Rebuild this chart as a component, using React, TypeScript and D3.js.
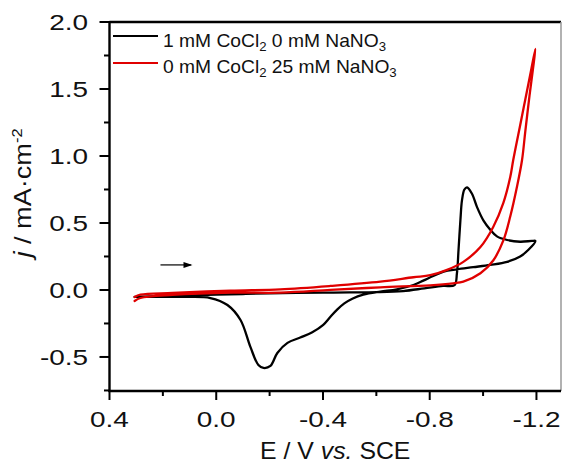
import React from 'react'
import * as d3 from 'd3'

const W = 563
const H = 464
const margin = { left: 109.5, top: 22, right: 2, bottom: 73 }

// 1 mM CoCl2, 0 mM NaNO3 : scan toward negative potentials, then back
const coForwardE = [0.306, 0.2, 0.1, 0.0, -0.1, -0.2, -0.3, -0.4, -0.5, -0.6, -0.7, -0.78, -0.85, -0.893, -0.902, -0.908, -0.915, -0.921, -0.930, -0.940, -0.958, -0.977, -1.001, -1.027, -1.052, -1.090, -1.139, -1.183, -1.196]
const coForwardJ = [-0.052, -0.045, -0.04, -0.035, -0.03, -0.025, -0.022, -0.02, -0.018, -0.016, -0.008, 0.012, 0.03, 0.037, 0.125, 0.30, 0.52, 0.67, 0.75, 0.766, 0.72, 0.62, 0.52, 0.45, 0.40, 0.373, 0.36, 0.366, 0.366]
const coReverseE = [-1.196, -1.17, -1.139, -1.09, -1.027, -0.963, -0.902, -0.852, -0.813, -0.776, -0.739, -0.677, -0.615, -0.551, -0.51, -0.48, -0.454, -0.428, -0.401, -0.360, -0.315, -0.267, -0.229, -0.203, -0.177, -0.158, -0.128, -0.091, -0.042, 0.022, 0.123, 0.306]
const coReverseJ = [0.366, 0.30, 0.25, 0.21, 0.187, 0.17, 0.154, 0.137, 0.104, 0.07, 0.037, 0.005, -0.012, -0.035, -0.065, -0.1, -0.145, -0.2, -0.26, -0.315, -0.355, -0.395, -0.47, -0.567, -0.582, -0.56, -0.425, -0.224, -0.112, -0.06, -0.052, -0.052]

// 0 mM CoCl2, 25 mM NaNO3
const noForwardE = [0.306, 0.284, 0.164, -0.053, -0.24, -0.428, -0.615, -0.739, -0.802, -0.865, -0.926, -0.99, -1.038, -1.076, -1.102, -1.113, -1.139, -1.158, -1.177, -1.196]
const noForwardJ = [-0.052, -0.035, -0.022, -0.005, 0.005, 0.03, 0.062, 0.095, 0.11, 0.15, 0.21, 0.32, 0.47, 0.65, 0.845, 0.97, 1.23, 1.42, 1.61, 1.8]
const noReverseE = [-1.196, -1.187, -1.174, -1.158, -1.146, -1.127, -1.102, -1.076, -1.038, -0.99, -0.926, -0.888, -0.802, -0.615, -0.428, -0.24, -0.053, 0.164, 0.284, 0.306]
const noReverseJ = [1.8, 1.65, 1.45, 1.18, 0.97, 0.77, 0.55, 0.37, 0.22, 0.125, 0.062, 0.05, 0.035, 0.02, 0.0, -0.02, -0.02, -0.037, -0.06, -0.082]

const xTicks = [0.4, 0.0, -0.4, -0.8, -1.2]
const xMinor = [0.2, -0.2, -0.6, -1.0]
const yTicks = [-0.5, 0.0, 0.5, 1.0, 1.5, 2.0]
const yMinor = [-0.75, -0.25, 0.25, 0.75, 1.25, 1.75]

const series = [
  { name: 'co', color: '#000000', E: coForwardE.concat(coReverseE.slice(1)), J: coForwardJ.concat(coReverseJ.slice(1)) },
  { name: 'no3', color: '#e00000', E: noForwardE.concat(noReverseE.slice(1)), J: noForwardJ.concat(noReverseJ.slice(1)) },
]

const font = '"Liberation Sans", Arial, sans-serif'
const tickFont = 22
const tickStretch = 1.27

export default function App() {
  const x = d3.scaleLinear().domain([0.4, -1.292]).range([margin.left, W - margin.right])
  const y = d3.scaleLinear().domain([-0.754, 2.0]).range([H - margin.bottom, margin.top])

  const line = d3.line<[number, number]>()
    .x(d => x(d[0]))
    .y(d => y(d[1]))
    .curve(d3.curveCatmullRom.alpha(0.5))

  const x0 = x.range()[0]
  const x1 = x.range()[1]
  const y0 = y.range()[0]
  const y1 = y.range()[1]

  return (
    <svg width={W} height={H} style={{ position: 'absolute', left: 0, top: 0, background: '#fff' }} fontFamily={font}>
      <rect x={0} y={0} width={W} height={H} fill="#fff" />

      {/* curves */}
      <g fill="none" strokeWidth={2.3} strokeLinejoin="round" strokeLinecap="round">
        {series.map(s => (
          <path key={s.name} d={line(s.E.map((e, i) => [e, s.J[i]] as [number, number])) || ''} stroke={s.color} />
        ))}
      </g>

      {/* frame */}
      <line x1={x0} x2={x1} y1={y1} y2={y1} stroke="#000" strokeWidth={2.4} />
      <line x1={x1} x2={x1} y1={y1} y2={y0} stroke="#999" strokeWidth={1.5} />

      {/* y axis */}
      <g>
        <line x1={x0} x2={x0} y1={y1 - 1} y2={y0 + 1} stroke="#000" strokeWidth={2.4} />
        {yTicks.map(t => (
          <g key={t}>
            <line x1={x0 - 10} x2={x0} y1={y(t)} y2={y(t)} stroke="#000" strokeWidth={2} />
            <text transform={`translate(88, ${y(t)}) scale(${tickStretch}, 1)`} dy="0.35em" textAnchor="end" fontSize={tickFont} fill="#111">{t.toFixed(1)}</text>
          </g>
        ))}
        {yMinor.map(t => (
          <line key={t} x1={x0 - 5.5} x2={x0} y1={y(t)} y2={y(t)} stroke="#000" strokeWidth={2} />
        ))}
      </g>

      {/* x axis */}
      <g>
        <line x1={x0 - 1} x2={x1} y1={y0} y2={y0} stroke="#000" strokeWidth={2.4} />
        {xTicks.map(t => (
          <g key={t}>
            <line x1={x(t)} x2={x(t)} y1={y0} y2={y0 + 9} stroke="#000" strokeWidth={2} />
            <text transform={`translate(${x(t)}, ${y0 + 36}) scale(${tickStretch}, 1)`} textAnchor="middle" fontSize={tickFont} fill="#111">{t.toFixed(1)}</text>
          </g>
        ))}
        {xMinor.map(t => (
          <line key={t} x1={x(t)} x2={x(t)} y1={y0} y2={y0 + 5} stroke="#000" strokeWidth={2} />
        ))}
      </g>

      {/* axis titles */}
      <text transform={`translate(${(x0 + x1) / 2}, 459) scale(1.08, 1)`} textAnchor="middle" fontSize={23} fill="#111">
        E / V <tspan fontStyle="italic">vs.</tspan> SCE
      </text>
      <text transform={`translate(31, 193) rotate(-90) scale(1.18, 1)`} textAnchor="middle" fontSize={23} fill="#111">
        <tspan fontStyle="italic">j</tspan> / mA·cm<tspan dy={-9} fontSize={14}>-2</tspan>
      </text>

      {/* scan direction arrow */}
      <g>
        <line x1={x(0.209)} x2={x(0.095)} y1={y(0.187)} y2={y(0.187)} stroke="#000" strokeWidth={1.2} />
        <path d={`M${x(0.089)},${y(0.187)} l-9,-3 l0,6 z`} fill="#000" />
      </g>

      {/* legend */}
      <g fontSize={17.5} fill="#111">
        <line x1={113} x2={158} y1={36} y2={36} stroke="#000" strokeWidth={2.2} />
        <text transform="translate(163, 46.5) scale(1.1, 1)">
          1 mM CoCl<tspan dy={4} fontSize={12}>2</tspan><tspan dy={-4}> 0 mM NaNO</tspan><tspan dy={4} fontSize={12}>3</tspan>
        </text>
        <line x1={113} x2={158} y1={63} y2={63} stroke="#e00000" strokeWidth={2.2} />
        <text transform="translate(163, 73) scale(1.1, 1)">
          0 mM CoCl<tspan dy={4} fontSize={12}>2</tspan><tspan dy={-4}> 25 mM NaNO</tspan><tspan dy={4} fontSize={12}>3</tspan>
        </text>
      </g>
    </svg>
  )
}
